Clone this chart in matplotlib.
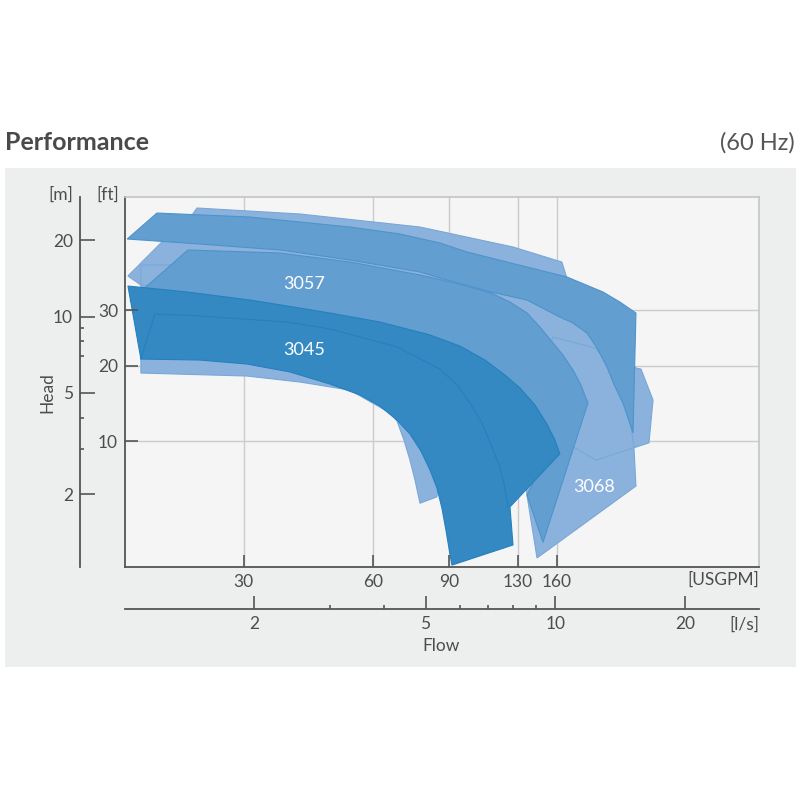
import matplotlib.pyplot as plt
from matplotlib.patches import Rectangle
from matplotlib.ticker import FixedLocator, NullFormatter, NullLocator

plt.rcParams['font.family'] = ['Lato', 'DejaVu Sans']

# all shapes: flow in l/s, head in m
band_top_q = [1.016, 1.191, 1.957, 3.340, 4.363, 5.402, 6.239, 8.062, 10.64, 12.90, 14.13, 15.39,
              15.15, 14.36, 13.71, 13.18, 12.50, 11.84, 10.99, 10.25, 8.598, 7.093, 5.402, 4.855,
              3.340, 2.298, 1.498]
band_top_h = [20.19, 25.55, 24.64, 22.51, 21.13, 19.47, 17.95, 16.09, 14.31, 12.49, 11.40, 10.32,
              3.48, 4.56, 5.37, 6.33, 7.52, 8.61, 9.43, 9.95, 11.61, 12.49, 14.18, 14.97,
              16.69, 18.28, 19.29]

strip_q = [1.475, 2.557, 4.855, 7.979, 10.36, 10.64, 5.697, 2.557, 1.383]
strip_h = [26.74, 25.33, 22.51, 18.78, 16.39, 14.18, 17.00, 20.94, 22.92]

upper_light_q = [1.020, 1.229, 1.957, 3.340, 5.402, 7.093, 8.598, 10.99, 13.40, 15.39,
                 15.81, 16.86, 16.50, 12.43, 11.11, 9.215, 2.557, 1.093]
upper_light_h = [14.44, 19.83, 19.29, 17.46, 14.97, 12.72, 11.83, 9.69, 7.72, 6.27,
                 6.21, 4.69, 3.18, 2.72, 3.04, 3.57, 11.61, 13.30]

lower_light_q = [1.093, 1.284, 5.697, 5.402, 5.316, 4.855, 4.727, 4.601, 4.457, 4.293, 4.136,
                 3.340, 2.557, 1.926, 1.093]
lower_light_h = [15.95, 15.95, 6.74, 2.49, 1.95, 1.84, 2.27, 2.72, 3.26, 3.88, 4.17,
                 5.13, 5.52, 5.83, 5.99]

p3068_q = [9.072, 15.39, 15.23, 14.51, 12.36, 9.879, 8.283, 8.598]
p3068_h = [1.12, 2.15, 3.04, 5.62, 7.52, 8.30, 3.26, 1.98]

p3057_q = [1.405, 2.298, 3.340, 4.855, 5.852, 7.093, 7.852, 8.598, 9.215, 9.879, 10.42, 10.99,
           11.47, 11.91, 9.365, 8.598, 8.880, 7.442, 5.402, 3.001, 1.498, 1.031]
p3057_h = [18.28, 17.78, 16.39, 14.57, 13.55, 12.38, 11.40, 10.32, 9.09, 7.87, 7.05, 6.16,
           5.37, 4.56, 1.29, 1.98, 2.21, 3.91, 6.16, 9.69, 11.10, 11.51]

p3045_q = [1.020, 1.398, 1.957, 2.385, 3.001, 3.920, 5.121, 6.011, 6.869, 7.645, 8.283, 8.976,
           9.566, 9.984, 10.25, 7.852, 7.979, 5.758, 5.667, 5.577, 5.458, 5.316, 5.121, 4.880,
           4.601, 4.293, 3.920, 3.524, 3.001, 2.424, 1.926, 1.498, 1.093]
p3045_h = [13.18, 12.49, 11.61, 11.00, 10.32, 9.51, 8.46, 7.65, 6.74, 5.88, 5.23, 4.48,
           3.77, 3.26, 2.88, 1.78, 1.26, 1.05, 1.226, 1.443, 1.762, 2.113, 2.49, 2.954,
           3.447, 3.91, 4.44, 4.91, 5.42, 6.05, 6.50, 6.74, 6.80]

inner_3045_q = [1.093, 1.178, 1.498, 2.385, 3.001, 4.293, 5.402, 5.946, 6.408, 6.796, 7.131,
                7.403, 7.603, 7.769]
inner_3045_h = [6.80, 10.23, 10.05, 9.51, 8.93, 7.59, 6.21, 5.33, 4.44, 3.74, 3.06,
                2.60, 2.21, 1.78]

label_names = ['3057', '3045', '3068']
label_q = [2.61, 2.61, 12.29]
label_h = [13.43, 7.38, 2.13]

usgpm_ticks = [30, 60, 90, 130, 160]
ls_per_usgpm = 0.06309
ls_ticks = [2, 5, 10, 20]
ls_minor = [3, 4, 6, 7, 8, 9]
m_ticks = [2, 5, 10, 20]
m_minor = [3, 4, 7, 8, 9]
ft_labels = ['10', '20', '30']
ft_pos_m = [3.23, 6.39, 10.6]   # where the ft ticks sit on the printed chart

LIGHT, LIGHT_EDGE = '#8BB2DD', '#79A7D8'
MED, MED_EDGE = '#629ED0', '#4E93CB'
DARK, DARK_EDGE = '#3589C3', '#2480BF'
TXT = '#4d4d4d'
AX = '#555555'

xlim = (1.004, 29.7)
ylim = (1.032, 29.55)

fig = plt.figure(figsize=(8, 8), dpi=100)

def fx(px):
    return px / 800

def fy(py):
    return 1 - py / 800

fig.add_artist(Rectangle((fx(5), fy(667)), fx(796) - fx(5), fy(168) - fy(667),
                         transform=fig.transFigure, facecolor='#EDEEEE',
                         edgecolor='none', zorder=0))

ax = fig.add_axes([fx(125), fy(567), fx(759) - fx(125), fy(197) - fy(567)])
ax.set_xscale('log')
ax.set_yscale('log')
ax.set_xlim(xlim)
ax.set_ylim(ylim)
ax.set_facecolor('#F5F5F5')

usgpm_pos = [v * ls_per_usgpm for v in usgpm_ticks]
for x in usgpm_pos:
    ax.axvline(x, color='#cccccc', lw=1, zorder=0.5)
for y in ft_pos_m:
    ax.axhline(y, color='#cccccc', lw=1, zorder=0.5)

ax.xaxis.set_major_locator(FixedLocator(usgpm_pos))
ax.set_xticklabels([str(v) for v in usgpm_ticks])
ax.xaxis.set_minor_locator(NullLocator())
ax.yaxis.set_major_locator(FixedLocator(ft_pos_m))
ax.set_yticklabels(ft_labels)
ax.yaxis.set_minor_locator(NullLocator())
ax.tick_params(axis='x', direction='in', length=9, width=1.2, color=AX, pad=5,
               labelsize=12.5, labelcolor=TXT)
ax.tick_params(axis='y', direction='in', length=9.5, width=1.2, color=AX, pad=5,
               labelsize=12.5, labelcolor=TXT)
for s in ['left', 'bottom']:
    ax.spines[s].set_color(AX)
    ax.spines[s].set_linewidth(1.3)
for s in ['top', 'right']:
    ax.spines[s].set_color('#c4c4c4')
    ax.spines[s].set_linewidth(1.2)

light = [(lower_light_q, lower_light_h), (upper_light_q, upper_light_h),
         (p3068_q, p3068_h), (strip_q, strip_h)]
medium = [(band_top_q, band_top_h), (p3057_q, p3057_h)]
dark = [(p3045_q, p3045_h)]

z = 1.0
for group, fc, ec in [(light, LIGHT, LIGHT_EDGE), (medium, MED, MED_EDGE), (dark, DARK, DARK_EDGE)]:
    for q, h in group:
        ax.fill(q, h, facecolor=fc, edgecolor='none', zorder=z)
    for q, h in group:
        ax.fill(q, h, facecolor='none', edgecolor=ec, lw=0.8, zorder=z + 0.05)
    z += 0.1
ax.plot(inner_3045_q, inner_3045_h, color=DARK_EDGE, lw=0.8, zorder=z)

for name, q, h in zip(label_names, label_q, label_h):
    ax.text(q, h, name, color='white', fontsize=13, ha='center', va='center', zorder=3)

# head in m, separate scale left of the chart
ax_m = fig.add_axes([fx(80), fy(567), 0.001, fy(197) - fy(567)])
ax_m.set_yscale('log')
ax_m.set_ylim(ylim)
ax_m.patch.set_visible(False)
for s in ['top', 'right', 'bottom']:
    ax_m.spines[s].set_visible(False)
ax_m.spines['left'].set_color(AX)
ax_m.spines['left'].set_linewidth(1.3)
ax_m.set_xticks([])
ax_m.yaxis.set_major_locator(FixedLocator(m_ticks))
ax_m.set_yticklabels([str(v) for v in m_ticks])
ax_m.yaxis.set_minor_locator(FixedLocator(m_minor))
ax_m.yaxis.set_minor_formatter(NullFormatter())
ax_m.tick_params(axis='y', which='major', direction='in', length=11, width=1.2, color=AX,
                 pad=5, labelsize=12.5, labelcolor=TXT)
ax_m.tick_params(axis='y', which='minor', direction='in', length=3, width=1.2, color=AX)

# flow in l/s, separate scale under the chart
ax_ls = fig.add_axes([fx(125), fy(609), fx(759) - fx(125), 0.001])
ax_ls.set_xscale('log')
ax_ls.set_xlim(xlim)
ax_ls.patch.set_visible(False)
for s in ['top', 'right', 'left']:
    ax_ls.spines[s].set_visible(False)
ax_ls.spines['bottom'].set_color(AX)
ax_ls.spines['bottom'].set_linewidth(1.3)
ax_ls.set_yticks([])
ax_ls.xaxis.set_major_locator(FixedLocator(ls_ticks))
ax_ls.set_xticklabels([str(v) for v in ls_ticks])
ax_ls.xaxis.set_minor_locator(FixedLocator(ls_minor))
ax_ls.xaxis.set_minor_formatter(NullFormatter())
ax_ls.tick_params(axis='x', which='major', direction='in', length=9.5, width=1.2, color=AX,
                  pad=5, labelsize=12.5, labelcolor=TXT)
ax_ls.tick_params(axis='x', which='minor', direction='in', length=3, width=1.2, color=AX)

fig.text(fx(5), fy(143), 'Performance', fontsize=18, fontweight='bold', color='#4a4a4a',
         ha='left', va='center')
fig.text(fx(795), fy(143), '(60 Hz)', fontsize=17, color='#555555', ha='right', va='center')
fig.text(fx(61), fy(195), '[m]', fontsize=12.5, color=TXT, ha='center', va='center')
fig.text(fx(107.5), fy(195), '[ft]', fontsize=12.5, color=TXT, ha='center', va='center')
fig.text(fx(47), fy(393), 'Head', fontsize=12.5, color=TXT, rotation=90, ha='center', va='center')
fig.text(fx(759), fy(580), '[USGPM]', fontsize=12.5, color=TXT, ha='right', va='center')
fig.text(fx(759), fy(625), '[l/s]', fontsize=12.5, color=TXT, ha='right', va='center')
fig.text(fx(441), fy(646), 'Flow', fontsize=12.5, color=TXT, ha='center', va='center')

fig.savefig('out.png', dpi=100)
